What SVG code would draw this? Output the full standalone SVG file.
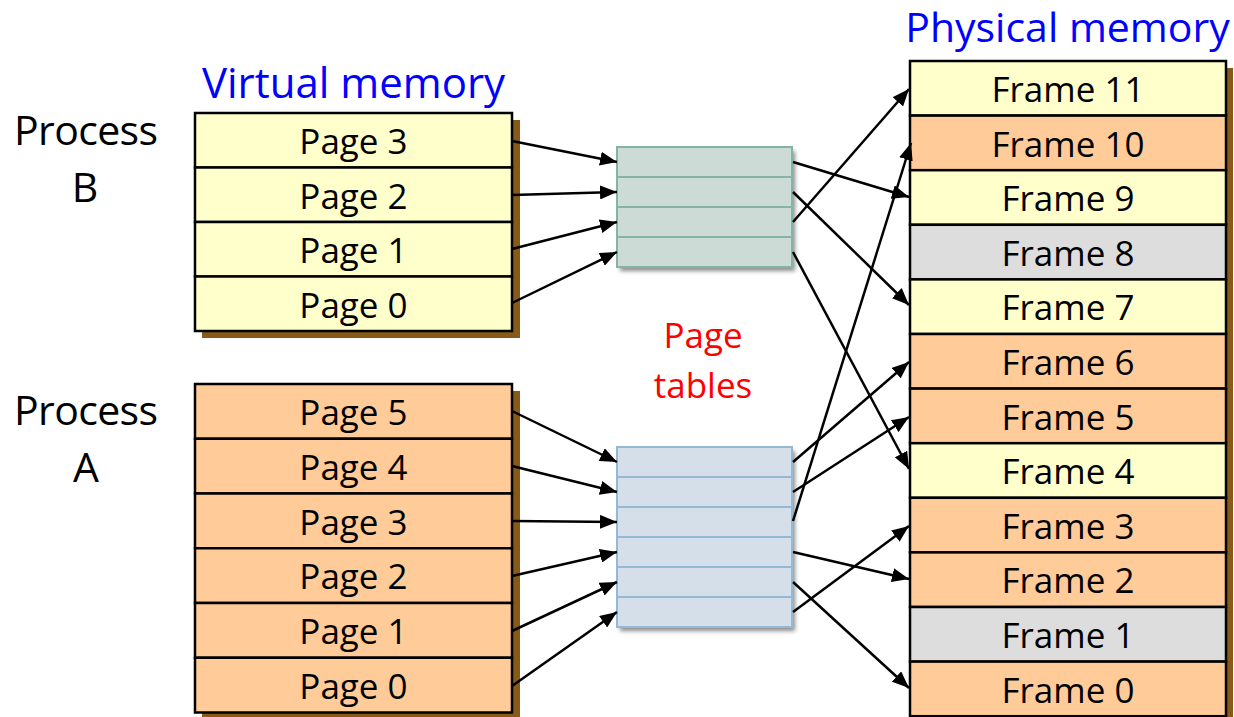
<svg xmlns="http://www.w3.org/2000/svg" width="1234" height="717" viewBox="0 0 1234 717">
<defs>
<style>
text{font-family:"Open Sans","Liberation Sans",sans-serif;text-anchor:middle;fill:#000}
.lbl{font-size:35px}
.big{font-size:41px}
.blue{fill:#0000FF;font-size:42px}
.red{fill:#FF0000;font-size:35px}
.y{fill:#FFFFCC;stroke:#000;stroke-width:2.5}
.o{fill:#FFCC99;stroke:#000;stroke-width:2.5}
.g{fill:#DDDDDD;stroke:#000;stroke-width:2.5}
.sh{fill:#875A17}
.ptb{fill:#CDDBD6;stroke:#86B3A7;stroke-width:2}
.pta{fill:#D4DFEA;stroke:#95B8D5;stroke-width:2}
.c{stroke:#000;stroke-width:2.5;fill:none;marker-end:url(#ah)}
</style>
<marker id="ah" markerUnits="userSpaceOnUse" markerWidth="18" markerHeight="14" viewBox="0 0 18 14" refX="17" refY="7" orient="auto">
<path d="M0,0 L17,7 L0,14 z" fill="#000"/>
</marker>
<filter id="ds" x="-10%" y="-10%" width="130%" height="130%">
<feDropShadow dx="3" dy="4" stdDeviation="2" flood-color="#000" flood-opacity="0.45"/>
</filter>
</defs>

<!-- titles -->
<g id="title-virtual"><text class="blue" x="353.5" y="98">Virtual memory</text></g>
<g id="title-physical"><text class="blue" x="1067.5" y="42" style="font-size:41px">Physical memory</text></g>
<g id="label-processB"><text class="big" x="86" y="145" textLength="144">Process</text><text class="big" x="85" y="202">B</text></g>
<g id="label-processA"><text class="big" x="86" y="425" textLength="144">Process</text><text class="big" x="86" y="482">A</text></g>
<g id="label-pagetables"><text class="red" x="703" y="348">Page</text><text class="red" x="703" y="398">tables</text></g>

<!-- Process B virtual memory -->
<g id="vmB">
<rect class="sh" x="202" y="120" width="318" height="218"/>
<g id="vmB-page3"><rect class="y" x="195" y="113" width="317" height="54.5"/><text class="lbl" x="353.5" y="154">Page 3</text></g>
<g id="vmB-page2"><rect class="y" x="195" y="167.5" width="317" height="54.5"/><text class="lbl" x="353.5" y="208.5">Page 2</text></g>
<g id="vmB-page1"><rect class="y" x="195" y="222" width="317" height="54.5"/><text class="lbl" x="353.5" y="263">Page 1</text></g>
<g id="vmB-page0"><rect class="y" x="195" y="276.5" width="317" height="54.5"/><text class="lbl" x="353.5" y="317.5">Page 0</text></g>
</g>

<!-- Process A virtual memory -->
<g id="vmA">
<rect class="sh" x="202" y="391" width="318" height="329"/>
<g id="vmA-page5"><rect class="o" x="195" y="384" width="317" height="54.75"/><text class="lbl" x="353.5" y="425">Page 5</text></g>
<g id="vmA-page4"><rect class="o" x="195" y="438.75" width="317" height="54.75"/><text class="lbl" x="353.5" y="479.75">Page 4</text></g>
<g id="vmA-page3"><rect class="o" x="195" y="493.5" width="317" height="54.75"/><text class="lbl" x="353.5" y="534.5">Page 3</text></g>
<g id="vmA-page2"><rect class="o" x="195" y="548.25" width="317" height="54.75"/><text class="lbl" x="353.5" y="589.25">Page 2</text></g>
<g id="vmA-page1"><rect class="o" x="195" y="603" width="317" height="54.75"/><text class="lbl" x="353.5" y="644">Page 1</text></g>
<g id="vmA-page0"><rect class="o" x="195" y="657.75" width="317" height="54.75"/><text class="lbl" x="353.5" y="698.75">Page 0</text></g>
</g>

<!-- Page table B -->
<g id="ptB">
<rect x="617" y="147" width="175" height="120" fill="#CDDBD6" filter="url(#ds)"/>
<rect class="ptb" x="617" y="147" width="175" height="30"/>
<rect class="ptb" x="617" y="177" width="175" height="30"/>
<rect class="ptb" x="617" y="207" width="175" height="30"/>
<rect class="ptb" x="617" y="237" width="175" height="30"/>
</g>

<!-- Page table A -->
<g id="ptA">
<rect x="617" y="447" width="175" height="180" fill="#D4DFEA" filter="url(#ds)"/>
<rect class="pta" x="617" y="447" width="175" height="30"/>
<rect class="pta" x="617" y="477" width="175" height="30"/>
<rect class="pta" x="617" y="507" width="175" height="30"/>
<rect class="pta" x="617" y="537" width="175" height="30"/>
<rect class="pta" x="617" y="567" width="175" height="30"/>
<rect class="pta" x="617" y="597" width="175" height="30"/>
</g>

<!-- Physical memory -->
<g id="pm">
<rect class="sh" x="917" y="68" width="316" height="660"/>
<g id="frame11"><rect class="y" x="910" y="61" width="316" height="54.6"/><text class="lbl" x="1068" y="102">Frame 11</text></g>
<g id="frame10"><rect class="o" x="910" y="115.6" width="316" height="54.6"/><text class="lbl" x="1068" y="156.6">Frame 10</text></g>
<g id="frame9"><rect class="y" x="910" y="170.2" width="316" height="54.6"/><text class="lbl" x="1068" y="211.2">Frame 9</text></g>
<g id="frame8"><rect class="g" x="910" y="224.8" width="316" height="54.6"/><text class="lbl" x="1068" y="265.8">Frame 8</text></g>
<g id="frame7"><rect class="y" x="910" y="279.4" width="316" height="54.6"/><text class="lbl" x="1068" y="320.4">Frame 7</text></g>
<g id="frame6"><rect class="o" x="910" y="334" width="316" height="54.6"/><text class="lbl" x="1068" y="375">Frame 6</text></g>
<g id="frame5"><rect class="o" x="910" y="388.6" width="316" height="54.6"/><text class="lbl" x="1068" y="429.6">Frame 5</text></g>
<g id="frame4"><rect class="y" x="910" y="443.2" width="316" height="54.6"/><text class="lbl" x="1068" y="484.2">Frame 4</text></g>
<g id="frame3"><rect class="o" x="910" y="497.8" width="316" height="54.6"/><text class="lbl" x="1068" y="538.8">Frame 3</text></g>
<g id="frame2"><rect class="o" x="910" y="552.4" width="316" height="54.6"/><text class="lbl" x="1068" y="593.4">Frame 2</text></g>
<g id="frame1"><rect class="g" x="910" y="607" width="316" height="54.6"/><text class="lbl" x="1068" y="648">Frame 1</text></g>
<g id="frame0"><rect class="o" x="910" y="661.6" width="316" height="54.6"/><text class="lbl" x="1068" y="702.6">Frame 0</text></g>
</g>

<!-- connectors -->
<g id="connectors">
<line class="c" x1="512" y1="141" x2="617" y2="162"/>
<line class="c" x1="512" y1="195" x2="617" y2="192"/>
<line class="c" x1="512" y1="249" x2="617" y2="222"/>
<line class="c" x1="512" y1="303" x2="617" y2="252"/>
<line class="c" x1="512" y1="411" x2="617" y2="462"/>
<line class="c" x1="512" y1="466" x2="617" y2="492"/>
<line class="c" x1="512" y1="521" x2="617" y2="522"/>
<line class="c" x1="512" y1="576" x2="617" y2="552"/>
<line class="c" x1="512" y1="631" x2="617" y2="582"/>
<line class="c" x1="512" y1="686" x2="617" y2="612"/>
<line class="c" x1="793" y1="162" x2="909" y2="197"/>
<line class="c" x1="793" y1="192" x2="909" y2="305"/>
<line class="c" x1="793" y1="222" x2="909" y2="89"/>
<line class="c" x1="793" y1="252" x2="909" y2="469"/>
<line class="c" x1="793" y1="462" x2="909" y2="362"/>
<line class="c" x1="793" y1="492" x2="909" y2="417"/>
<line class="c" x1="793" y1="521" x2="911" y2="143"/>
<line class="c" x1="793" y1="552" x2="909" y2="579"/>
<line class="c" x1="793" y1="582" x2="909" y2="688"/>
<line class="c" x1="793" y1="612" x2="909" y2="526"/>
</g>
</svg>
